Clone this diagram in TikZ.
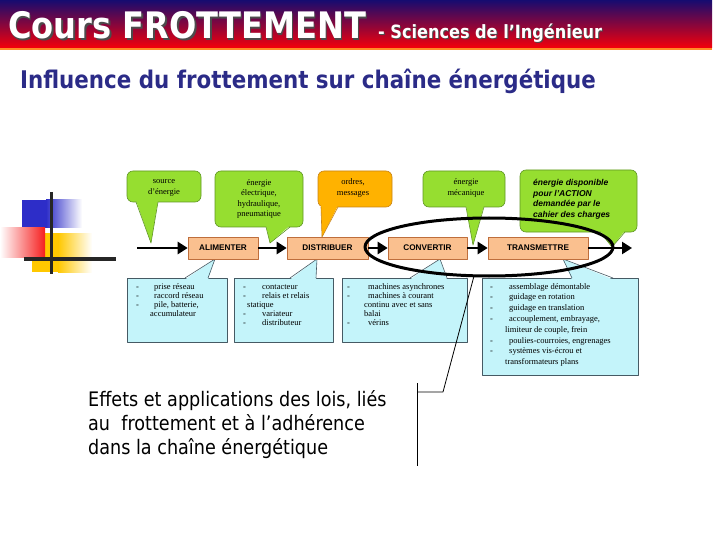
\documentclass[tikz,border=0pt]{standalone}
\usepackage{fontspec}
\setmainfont{Liberation Serif}
\newfontfamily\tahoma{DejaVu Sans}[FakeStretch=0.88]
\newfontfamily\arialf{Liberation Sans}
\usetikzlibrary{arrows.meta}
\definecolor{hdnavy}{RGB}{22,12,112}
\definecolor{hdpurple}{RGB}{125,0,135}
\definecolor{hdred}{RGB}{245,0,10}
\definecolor{hdline}{RGB}{255,140,40}
\definecolor{titblue}{RGB}{43,43,135}
\definecolor{lgreen}{RGB}{150,222,48}
\definecolor{lgreenb}{RGB}{95,150,35}
\definecolor{lorange}{RGB}{255,178,0}
\definecolor{lorangeb}{RGB}{200,130,20}
\definecolor{boxfill}{RGB}{250,192,143}
\definecolor{boxline}{RGB}{190,110,60}
\definecolor{lcyan}{RGB}{196,244,250}
\definecolor{lcyanb}{RGB}{70,90,100}
\definecolor{logoblue}{RGB}{45,45,200}
\definecolor{logored}{RGB}{245,30,30}
\definecolor{logoyel}{RGB}{255,200,0}
\begin{document}
\begin{tikzpicture}[x=1pt,y=-1pt,line join=round,
		>={Triangle[length=10pt,width=12pt]},
		flow/.style={->,line width=2.4pt},
		etape/.style={draw=boxline,fill=boxfill,line width=.6pt,minimum height=22pt,inner sep=0pt,font=\arialf\fontsize{8.2}{9}\bfseries},
		gbulle/.style={fill=lgreen,draw=lgreenb,line width=.6pt,rounded corners=6pt},
		obulle/.style={fill=lorange,draw=lorangeb,line width=.6pt,rounded corners=6pt},
		cbulle/.style={fill=lcyan,draw=lcyanb,line width=.6pt},
		btxt/.style={align=center,inner sep=0pt,font=\fontsize{8.5}{10.5}\selectfont},
		ltxt/.style={align=left,inner sep=0pt,anchor=base west,font=\fontsize{8.5}{9}\selectfont}]
	\useasboundingbox (0,0) rectangle (720,540);
	% bandeau
	\shade[top color=hdnavy,middle color=hdpurple,bottom color=hdred] (0,0) rectangle (712,48);
	\fill[hdline] (0,48) rectangle (712,50);
	\node[anchor=base west,inner sep=0pt,text=black!70,font=\tahoma\fontsize{36.5}{36.5}\bfseries] at (9.5,40.5) {Cours FROTTEMENT};
	\node[anchor=base west,inner sep=0pt,text=white,font=\tahoma\fontsize{36.5}{36.5}\bfseries] (cours) at (8,39) {Cours FROTTEMENT};
	\node[anchor=base west,inner sep=0pt,text=black!70,font=\tahoma\fontsize{18.3}{18.3}\bfseries] at (379,40) {- Sciences de l’Ingénieur};
	\node[anchor=base west,inner sep=0pt,text=white,font=\tahoma\fontsize{18.3}{18.3}\bfseries] at (378,39) {- Sciences de l’Ingénieur};
	\node[anchor=base west,inner sep=0pt,text=titblue,font=\tahoma\fontsize{24.3}{24.3}\bfseries] (titre) at (20,89) {Influence du frottement sur chaîne énergétique};
	% logo
	\fill[logoblue] (22,200) rectangle (46,228);
	\shade[left color=logoblue,right color=white] (46,200) rectangle (82,228);
	\fill[logoyel] (32,233) rectangle (58,272);
	\shade[left color=logoyel,right color=white] (58,233) rectangle (92,272);
	\shade[left color=white,right color=logored] (0,228) rectangle (45,257);
	\draw[line width=3pt,black!85] (51,192) -- (51,274);
	\draw[line width=4pt,black!85] (24,259) -- (116,259);
	% bulles du haut
	\draw[gbulle] (127,171) rectangle (201,202);
	\fill[lgreen] (136,200.5) -- (151,243) -- (158,200.5) -- cycle;
	\draw[lgreenb,line width=.6pt] (136,202) -- (151,243) -- (158,202);
	\node[btxt] (src) at (164,188) {source\\d’énergie};
	\draw[gbulle] (215,171) rectangle (303,227);
	\fill[lgreen] (266,225.5) -- (270,243) -- (290,225.5) -- cycle;
	\draw[lgreenb,line width=.6pt] (266,227) -- (270,243) -- (290,227);
	\node[btxt] (elec) at (259,199) {énergie\\électrique,\\hydraulique,\\pneumatique};
	\draw[obulle] (318,171) rectangle (392,207);
	\fill[lorange] (321,205.5) -- (322,237) -- (338,205.5) -- cycle;
	\draw[lorangeb,line width=.6pt] (321,207) -- (322,237) -- (338,207);
	\node[btxt] (ordres) at (353,188) {ordres,\\messages};
	\draw[gbulle] (423,171) rectangle (505,207);
	\fill[lgreen] (466,205.5) -- (473,245) -- (484,205.5) -- cycle;
	\draw[lgreenb,line width=.6pt] (466,207) -- (473,245) -- (484,207);
	\node[btxt] (meca) at (466,188) {énergie\\mécanique};
	\draw[gbulle] (520,170) rectangle (637,232);
	\fill[lgreen] (600,230.5) -- (612,247) -- (625,230.5) -- cycle;
	\draw[lgreenb,line width=.6pt] (600,232) -- (612,247) -- (625,232);
	\node[ltxt,font=\arialf\fontsize{8.5}{10.5}\bfseries\itshape] (action) at (533,217.5) {énergie disponible\\pour l’ACTION\\demandée par le\\cahier des charges};
	% bulles du bas
	\draw[cbulle] (127,278) rectangle (227,342);
	\fill[lcyan] (185,279.5) -- (215,259) -- (208,279.5) -- cycle;
	\draw[lcyanb,line width=.6pt] (185,278) -- (215,259) -- (208,278);
	\node[ltxt] (alimtx) at (136,316) {\makebox[18pt][l]{-}prise réseau\\\makebox[18pt][l]{-}raccord réseau\\\makebox[18pt][l]{-}pile, batterie,\\\hspace*{14pt}accumulateur};
	\draw[cbulle] (234,278) rectangle (333,342);
	\fill[lcyan] (290,279.5) -- (317,259) -- (316,279.5) -- cycle;
	\draw[lcyanb,line width=.6pt] (290,278) -- (317,259) -- (316,278);
	\node[ltxt] (distrtx) at (243,325) {\makebox[19pt][l]{-}contacteur\\\makebox[19pt][l]{-}relais et relais\\\hspace*{4pt}statique\\\makebox[19pt][l]{-}variateur\\\makebox[19pt][l]{-}distributeur};
	\draw[cbulle] (342,278) rectangle (467,342);
	\fill[lcyan] (410,279.5) -- (440,259) -- (447,279.5) -- cycle;
	\draw[lcyanb,line width=.6pt] (410,278) -- (440,259) -- (447,278);
	\node[ltxt] (convtx) at (347,325) {\makebox[21pt][l]{-}machines asynchrones\\\makebox[21pt][l]{-}machines à courant\\\hspace*{17pt}continu avec et sans\\\hspace*{17pt}balai\\\makebox[21pt][l]{-}vérins};
	\draw[cbulle] (482,278) rectangle (638,375);
	\fill[lcyan] (572,279.5) -- (563,259) -- (613,279.5) -- cycle;
	\draw[lcyanb,line width=.6pt] (572,278) -- (563,259) -- (613,278);
	\node[ltxt,font=\fontsize{8.5}{10.8}\selectfont] (transtx) at (490,364.6) {\makebox[19pt][l]{-}assemblage démontable\\\makebox[19pt][l]{-}guidage en rotation\\\makebox[19pt][l]{-}guidage en translation\\\makebox[19pt][l]{-}accouplement, embrayage,\\\hspace*{15pt}limiteur de couple, frein\\\makebox[19pt][l]{-}poulies-courroies, engrenages\\\makebox[19pt][l]{-}systèmes vis-écrou et\\\hspace*{15pt}transformateurs plans};
	% chaine
	\coordinate (entree) at (137,248);
	\coordinate (sortie) at (632,248);
	\node[etape,minimum width=70pt] (alim) at (223,248) {ALIMENTER};
	\node[etape,minimum width=81pt] (distr) at (327.5,248) {DISTRIBUER};
	\node[etape,minimum width=79pt] (conv) at (427.5,248) {CONVERTIR};
	\node[etape,minimum width=100pt] (trans) at (538,248) {TRANSMETTRE};
	\draw[flow] (entree) -- (alim);
	\draw[flow] (alim) -- (distr);
	\draw[flow] (distr) -- (conv);
	\draw[flow] (conv) -- (trans);
	\draw[flow] (trans) -- (sortie);
	% ellipse et renvoi
	\draw[line width=3pt] (489,247) ellipse (124pt and 29pt);
	\coordinate (bas) at (474,276);
	\coordinate (coude) at (443,392);
	\coordinate (crochet) at (417,392);
	\draw[line width=.8pt] (bas) -- (coude) -- (crochet);
	\draw[line width=.8pt] (417,383) -- (417,466);
	\node[ltxt,font=\tahoma\fontsize{20}{24}\selectfont] (effets) at (88,454) {Effets et applications des lois, liés\\au\ \ frottement et à l’adhérence\\dans la chaîne énergétique};
\end{tikzpicture}
\end{document}
